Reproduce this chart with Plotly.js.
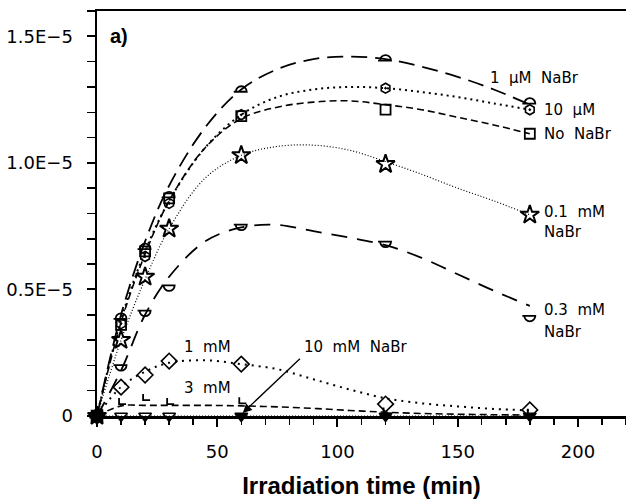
<!DOCTYPE html>
<html>
<head>
<meta charset="utf-8">
<script src="https://cdn.plot.ly/plotly-3.0.1.min.js"></script>
<style>
html,body{margin:0;padding:0;background:#fff;}
#chart{width:626px;height:499px;}
</style>
</head>
<body>
<div id="chart"></div>
<script>
// ---- data (values in mol/L) ----
const t = [0, 10, 20, 30, 60, 120, 180];
const noNaBr = [0, 3.6e-6, 6.5e-6, 8.6e-6, 11.85e-6, 12.1e-6, 11.15e-6];
const uM10   = [0, 3.65e-6, 6.3e-6, 8.4e-6, 11.9e-6, 12.95e-6, 12.1e-6];
const uM1    = [0, 3.9e-6, 6.65e-6, 8.7e-6, 12.87e-6, 14.1e-6, 12.4e-6];
const mM01   = [0, 3.0e-6, 5.5e-6, 7.4e-6, 10.3e-6, 9.95e-6, 7.95e-6];
const mM03   = [0, 1.95e-6, 4.1e-6, 5.1e-6, 7.5e-6, 6.83e-6, 3.9e-6];
const mM1    = [0, 1.14e-6, 1.62e-6, 2.17e-6, 2.05e-6, 0.47e-6, 0.24e-6];
const mM3    = [0, 0.47e-6, 0.63e-6, 0.47e-6, 0.5e-6, 0.1e-6, 0.05e-6];
const mM10   = [0, 0, 0, 0, 0, 0, 0];

// fitted curves
const tc = [0, 10, 20, 30, 45, 60, 75, 90, 105, 120, 135, 150, 165, 180];
const fit_uM1    = [0, 4.0, 6.9, 9.1, 11.4, 12.9, 13.7, 14.1, 14.2, 14.1, 13.8, 13.4, 12.9, 12.3].map(v => v * 1e-6);
const fit_uM10   = [0, 3.8, 6.5, 8.5, 10.6, 11.9, 12.6, 12.9, 13.0, 12.95, 12.8, 12.6, 12.35, 12.1].map(v => v * 1e-6);
const fit_noNaBr = [0, 3.7, 6.4, 8.5, 10.6, 11.75, 12.2, 12.4, 12.45, 12.3, 12.1, 11.8, 11.5, 11.15].map(v => v * 1e-6);
const fit_mM01   = [0, 3.0, 5.4, 7.4, 9.4, 10.3, 10.65, 10.7, 10.5, 10.05, 9.55, 9.0, 8.5, 7.95].map(v => v * 1e-6);
const fit_mM03   = [0, 1.8, 4.0, 5.5, 6.9, 7.45, 7.55, 7.3, 7.05, 6.75, 6.25, 5.6, 4.95, 4.35].map(v => v * 1e-6);
const fit_mM1    = [0, 1.15, 1.75, 2.1, 2.2, 2.05, 1.85, 1.45, 1.05, 0.7, 0.5, 0.38, 0.28, 0.22].map(v => v * 1e-6);
const fit_mM3    = [0, 0.4, 0.42, 0.42, 0.42, 0.4, 0.36, 0.3, 0.22, 0.15, 0.1, 0.07, 0.05, 0.04].map(v => v * 1e-6);
const fit_mM10   = [0, 0, 0, 0, 0, 0, 0, 0, 0, 0, 0, 0, 0, 0];

const xTicks = [0, 50, 100, 150, 200];
const yTickVals = [0, 0.5e-5, 1.0e-5, 1.5e-5];
const yTickText = ['0', '0.5E\u22125', '1.0E\u22125', '1.5E\u22125'];

// ---- traces ----
function curve(y, dash, width) {
  return {x: tc, y: y, type: 'scatter', mode: 'lines', line: {shape: 'spline', smoothing: 1, color: '#000', dash: dash, width: width}, hoverinfo: 'skip', cliponaxis: true};
}
function pts(y, symbol, size, lw) {
  return {x: t, y: y, type: 'scatter', mode: 'markers', cliponaxis: false,
    marker: {symbol: symbol, size: size, color: '#000', line: {color: '#000', width: lw}}};
}
const data = [
  curve(fit_uM1, '16px,8px', 1.8),
  curve(fit_uM10, '2px,4px', 2),
  curve(fit_noNaBr, '7px,4px', 1.6),
  curve(fit_mM01, '1px,2px', 1.2),
  curve(fit_mM03, '16px,10px', 1.8),
  curve(fit_mM1, '2px,5px', 2),
  curve(fit_mM3, '7px,4px', 1.6),
  curve(fit_mM10, '1px,2px', 1.2),
  pts(noNaBr, 'square-open', 10, 1.8),          // 8
  pts(uM10, 'hexagon-open-dot', 10, 1.6),       // 9
  pts(uM1, 'circle-open', 11, 1.8),             // 10 -> upper half circle
  pts(mM01, 'star-open', 14, 2),                // 11
  pts(mM03, 'circle-open', 11, 1.8),            // 12 -> lower half circle
  pts(mM1, 'diamond-open', 12, 1.6),            // 13
  pts(mM3, 'circle-open', 10, 1.8),             // 14 -> L shape
  {x: t, y: mM10, type: 'scatter', mode: 'markers', cliponaxis: false,
   marker: {symbol: ['square', 'triangle-down-open', 'triangle-down-open', 'triangle-down-open', 'triangle-down', 'triangle-down', 'triangle-down'],
            size: 11, color: '#000', line: {color: '#000', width: 1.6}}}
];

const lblFont = {family: 'DejaVu Sans', size: 15, color: '#000'};
function lab(x, y, text) {
  return {x: x, y: y, xref: 'x', yref: 'y', text: text, showarrow: false, xanchor: 'left', yanchor: 'middle', font: lblFont};
}
const S = '\u00a0\u00a0';
const annotations = [
  {x: 0.02, y: 1.5e-5, xref: 'paper', yref: 'y', text: '<b>a)</b>', showarrow: false, xanchor: 'left', yanchor: 'middle',
   font: {family: 'Liberation Sans', size: 20, color: '#000'}},
  lab(162.6, 13.34e-6, '1' + S + 'µM' + S + 'NaBr'),
  lab(185.2, 12.08e-6, '10' + S + 'µM'),
  lab(185.2, 11.13e-6, 'No' + S + 'NaBr'),
  lab(185.2, 8.05e-6, '0.1' + S + 'mM'),
  lab(185.2, 7.26e-6, 'NaBr'),
  lab(185.2, 4.18e-6, '0.3' + S + 'mM'),
  lab(185.2, 3.32e-6, 'NaBr'),
  lab(35.3, 2.72e-6, '1' + S + 'mM'),
  lab(35.3, 1.1e-6, '3' + S + 'mM'),
  lab(85.2, 2.72e-6, '10' + S + 'mM' + S + 'NaBr'),
  {x: 60.6, y: 0.12e-6, xref: 'x', yref: 'y', ax: 85.0, ay: 2.32e-6, axref: 'x', ayref: 'y', text: '',
   showarrow: true, arrowhead: 2, arrowsize: 1.4, arrowwidth: 1.3, arrowcolor: '#000', standoff: 0}
];

const axisCommon = {
  showgrid: false, zeroline: false, showline: true, linecolor: '#000', linewidth: 2.5,
  ticks: 'outside', ticklen: 8, tickwidth: 2, tickcolor: '#000', automargin: false,
  tickfont: {family: 'DejaVu Sans', size: 18, color: '#000'}
};

const layout = {
  width: 626, height: 499,
  margin: {l: 97, r: 0, t: 11, b: 83, pad: 0},
  paper_bgcolor: '#fff', plot_bgcolor: '#fff',
  showlegend: false,
  xaxis: Object.assign({}, axisCommon, {
    range: [0, 220], tickvals: xTicks, ticktext: xTicks.map(String), mirror: true,
    ticklabelstandoff: 10,
    minor: {dtick: 10, tick0: 0, ticks: 'outside', ticklen: 6, tickwidth: 1.5, tickcolor: '#000', showgrid: false},
    title: {text: '<b>Irradiation time (min)</b>', font: {family: 'Liberation Sans', size: 24, color: '#000'}, standoff: 18}
  }),
  yaxis: Object.assign({}, axisCommon, {
    range: [0, 1.6e-5], tickvals: yTickVals, ticktext: yTickText, mirror: false,
    ticklabelstandoff: 10,
    minor: {dtick: 1e-6, tick0: 0, ticks: 'outside', ticklen: 8, tickwidth: 1.5, tickcolor: '#000', showgrid: false}
  }),
  annotations: annotations
};

Plotly.newPlot('chart', data, layout, {staticPlot: true, displayModeBar: false}).then(function () {
  const traces = document.querySelectorAll('.scatterlayer .trace');
  function reshape(idx, d) {
    const tr = traces[idx];
    if (!tr) return;
    tr.querySelectorAll('path.point').forEach(function (p) { p.setAttribute('d', d); });
  }
  reshape(10, 'M-5.5,1.5A5.5,5.5 0 0 1 5.5,1.5ZM-7.5,1.5H-5.5');
  reshape(12, 'M-5.5,-1.5A5.5,5.5 0 0 0 5.5,-1.5ZM-7.5,-1.5H-5.5');
  reshape(14, 'M-2,-6V0H5');
});
</script>
</body>
</html>
